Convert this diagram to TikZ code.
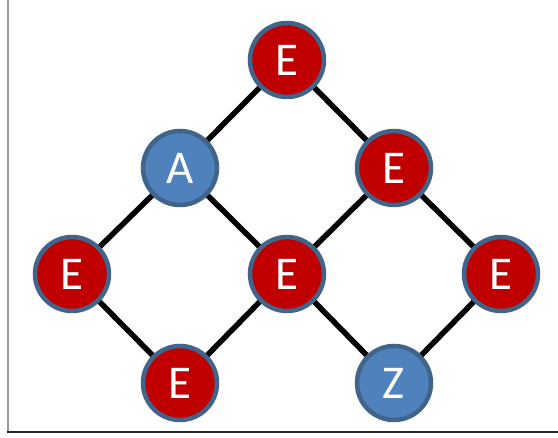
\documentclass[tikz,border=0pt]{standalone}
\usepackage{fontspec}
\setmainfont{Carlito}
\usetikzlibrary{backgrounds}
\definecolor{redfill}{HTML}{C00000}
\definecolor{bluefill}{HTML}{4F81BD}
\definecolor{ringcol}{HTML}{41648A}
\tikzset{
  x=1pt,y=1pt,
  vtx/.style={circle, minimum size=74pt, inner sep=0pt, line width=4.5pt, draw=ringcol,
    text=white, font=\fontsize{47}{47}\selectfont},
  evtx/.style={vtx, fill=redfill},
  avtx/.style={vtx, fill=bluefill},
  edge/.style={line width=5.5pt, black}
}
\begin{document}
\begin{tikzpicture}
\useasboundingbox (0,0) rectangle (558,438);
\draw[line width=2pt, gray!80] (7.5,6) -- (7.5,438);
\draw[line width=2pt, black!85] (6.5,6) -- (558,6);
\node[evtx] (t)  at (287,378) {E};
\node[avtx] (a)  at (180,270) {A};
\node[evtx] (r)  at (394,270) {E};
\node[evtx] (l)  at (72,164) {E};
\node[evtx] (c)  at (287,164) {E};
\node[evtx] (rr) at (501,164) {E};
\node[evtx] (bl) at (180,55) {E};
\node[avtx] (z)  at (394,55) {Z};
\begin{scope}[on background layer]
\draw[edge] (t.center) -- (a.center);
\draw[edge] (t.center) -- (r.center);
\draw[edge] (a.center) -- (l.center);
\draw[edge] (a.center) -- (c.center);
\draw[edge] (r.center) -- (c.center);
\draw[edge] (r.center) -- (rr.center);
\draw[edge] (l.center) -- (bl.center);
\draw[edge] (c.center) -- (bl.center);
\draw[edge] (c.center) -- (z.center);
\draw[edge] (rr.center) -- (z.center);
\end{scope}
\end{tikzpicture}
\end{document}
